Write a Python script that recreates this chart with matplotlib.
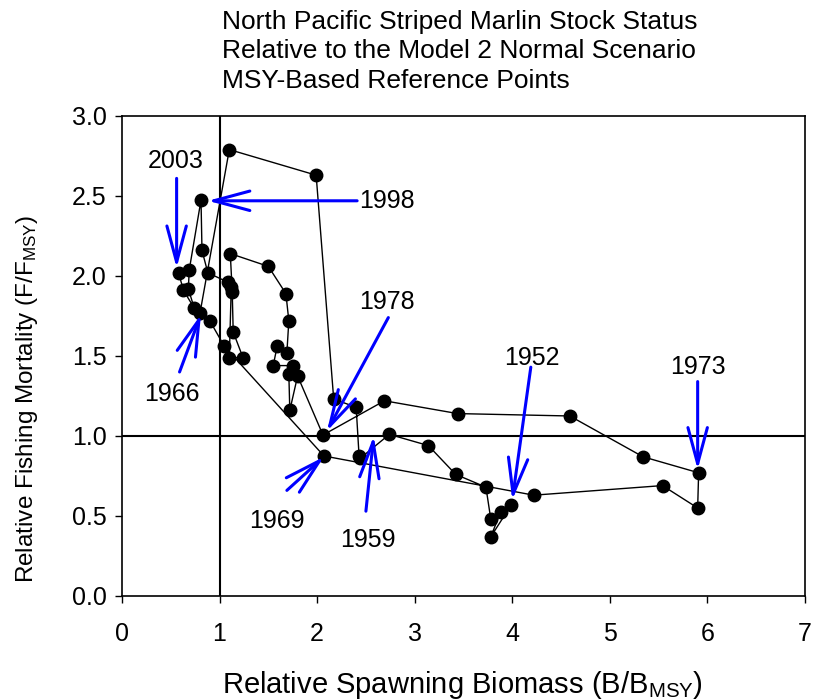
import matplotlib
matplotlib.use("Agg")
import matplotlib.pyplot as plt
from matplotlib import font_manager

plt.rcParams['font.family'] = ['Liberation Sans', 'DejaVu Sans']
plt.rcParams['mathtext.fontset'] = 'custom'
plt.rcParams['mathtext.rm'] = 'Liberation Sans'
plt.rcParams['mathtext.it'] = 'Liberation Sans:italic'

# stock trajectory 1952-2003
years = list(range(1952, 2004))
b_ratio = [3.99, 3.78, 3.88, 3.78, 3.73, 3.42, 3.14, 2.74, 2.44, 2.43,
           2.40, 2.17, 1.99, 1.10, 0.80, 0.90, 1.05, 2.07, 4.22, 5.54,
           5.90, 5.91, 5.34, 4.59, 3.44, 2.69, 2.06, 1.80, 1.72, 1.71,
           1.75, 1.55, 1.59, 1.69, 1.71, 1.68, 1.50, 1.11, 1.13, 1.14,
           1.24, 1.10, 1.12, 1.09, 0.88, 0.82, 0.81, 0.69, 0.68, 0.74,
           0.63, 0.58]
f_ratio = [0.57, 0.37, 0.525, 0.48, 0.68, 0.76, 0.94, 1.01, 0.86, 0.875,
           1.18, 1.23, 2.63, 2.79, 1.77, 1.72, 1.56, 0.875, 0.63, 0.69,
           0.55, 0.77, 0.87, 1.125, 1.14, 1.22, 1.006, 1.375, 1.16, 1.39,
           1.44, 1.44, 1.56, 1.52, 1.72, 1.89, 2.06, 2.14, 1.90, 1.65,
           1.49, 1.49, 1.93, 1.96, 2.02, 2.16, 2.475, 2.04, 1.92, 1.80,
           1.91, 2.02]

# labelled years: (label, arrow tail, arrow head, text position)
labels = ['2003', '1998', '1966', '1978', '1969', '1959', '1952', '1973']
tails = [(0.56, 2.61), (2.41, 2.47), (0.59, 1.40), (2.73, 1.74),
         (1.69, 0.66), (2.50, 0.53), (4.19, 1.43), (5.90, 1.34)]
heads = [(0.56, 2.05), (0.88, 2.47), (0.81, 1.76), (2.10, 1.03),
         (2.07, 0.87), (2.58, 1.00), (4.00, 0.60), (5.90, 0.79)]
text_pos = [(0.55, 2.72), (2.72, 2.47), (0.51, 1.26), (2.72, 1.84),
            (1.59, 0.47), (2.52, 0.35), (4.20, 1.49), (5.90, 1.43)]

# narrow face for the y label if it is there
names = {f.name for f in font_manager.fontManager.ttflist}
if 'Liberation Sans Narrow' in names:
    ylab_family = ['Liberation Sans Narrow', 'DejaVu Sans']
    ylab_size = 21
else:
    ylab_family = ['Liberation Sans', 'DejaVu Sans']
    ylab_size = 17.5

fig = plt.figure(figsize=(8.17, 7.0), dpi=100)
ax = fig.add_axes([0.1493, 0.1486, 0.836, 0.6857])

ax.axvline(1.0, color='k', lw=1.5, zorder=1)
ax.axhline(1.0, color='k', lw=1.5, zorder=1)

ax.plot(b_ratio, f_ratio, color='k', lw=1.0, marker='o', markersize=9,
        markerfacecolor='k', markeredgecolor='k', zorder=3)

for lab, t, h, p in zip(labels, tails, heads, text_pos):
    ax.annotate('', xy=h, xytext=t,
                arrowprops=dict(arrowstyle='->, head_length=2.6, head_width=0.7',
                                color='#0000ff', lw=2.2, mutation_scale=10,
                                shrinkA=0, shrinkB=0),
                zorder=4)
    ax.text(p[0], p[1], lab, ha='center', va='center', fontsize=18, zorder=5)

ax.set_xlim(0, 7)
ax.set_ylim(0, 3)
ax.set_xticks(range(0, 8))
ax.set_yticks([0, 0.5, 1.0, 1.5, 2.0, 2.5, 3.0])
ax.set_yticklabels(['0.0', '0.5', '1.0', '1.5', '2.0', '2.5', '3.0'])
ax.tick_params(direction='out', length=5, width=1, labelsize=18, pad=6)
ax.tick_params(axis='x', pad=14)
for s in ax.spines.values():
    s.set_linewidth(1.2)

ax.set_xlabel(r'Relative Spawning Biomass (B/B$_{\mathrm{MSY}}$)', fontsize=21)
ax.set_ylabel(r'Relative Fishing Mortality (F/F$_{\mathrm{MSY}}$)',
              fontsize=ylab_size, family=ylab_family)
ax.xaxis.set_label_coords(0.498, -0.152)
ax.yaxis.set_label_coords(-0.12, 0.41)

fig.text(0.272, 0.986,
         'North Pacific Striped Marlin Stock Status\n'
         'Relative to the Model 2 Normal Scenario\n'
         'MSY-Based Reference Points',
         ha='left', va='top', fontsize=19, linespacing=1.3)

fig.savefig('out.png', dpi=100)
